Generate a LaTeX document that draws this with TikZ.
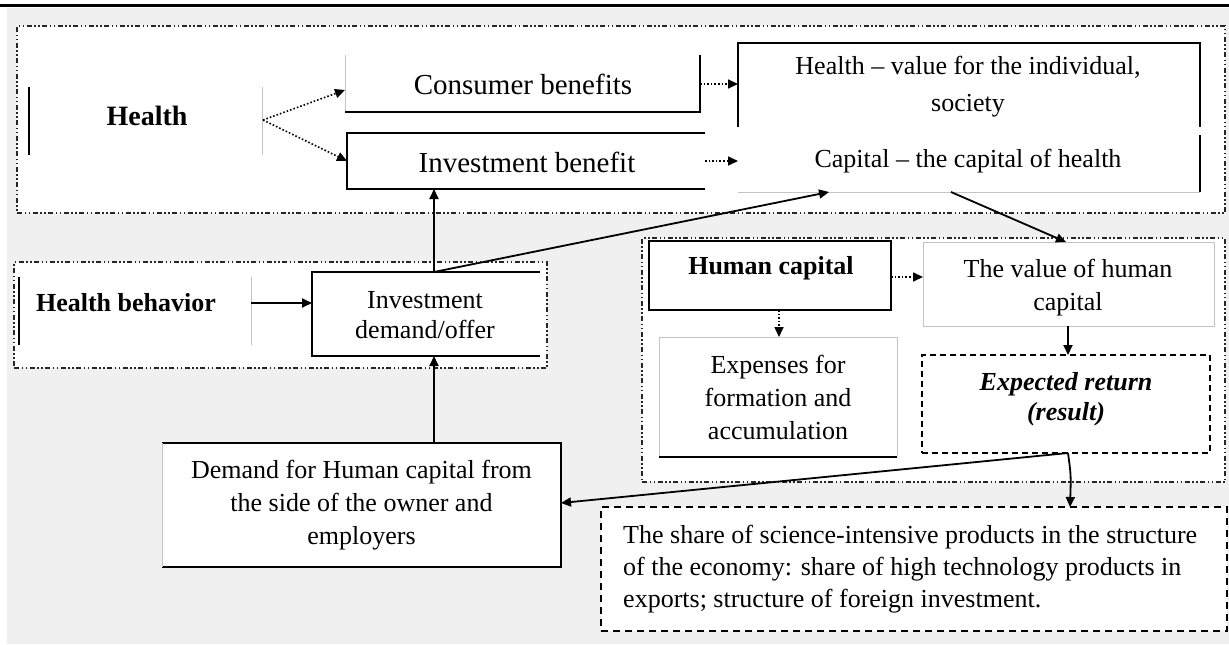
\documentclass[tikz,border=0pt]{standalone}
\usepackage{fontspec}
\setmainfont{Liberation Serif}
\usetikzlibrary{arrows.meta,fit}
\definecolor{bg}{HTML}{F0F0F0}
\definecolor{thinc}{HTML}{C4C4C4}
\begin{document}
\begin{tikzpicture}[x=1pt,y=-1pt,
  blk/.style={line width=1.8pt, black},
  lite/.style={line width=1pt, thinc},
  cont/.style={draw=black!85, line width=1.2pt, fill=white, inner sep=0pt, outer sep=0pt,
     dash pattern=on 5pt off 2.5pt on 1.5pt off 2.5pt on 1.5pt off 2.5pt},
  area/.style={inner sep=0pt, outer sep=0pt},
  txt/.style={font=\fontsize{26}{33}\selectfont, align=center, inner sep=0pt},
  bigtxt/.style={font=\fontsize{29}{33}\selectfont, align=center, inner sep=0pt},
  conn/.style={line width=1.8pt, -{Triangle[length=10pt,width=9pt]}},
  dconn/.style={line width=1.6pt, dotted, -{Triangle[length=10pt,width=9pt]}},
]
\useasboundingbox (0,0) rectangle (1229,645);
\fill[bg] (7,8) rectangle (1229,644);
\draw[line width=3pt] (0,5) -- (1229,5);

% containers
\node[cont, fit={(17,26) (1225,213)}] (topC) {};
\node[cont, fit={(14,262) (547,368)}] (hbC) {};
\node[cont, fit={(642,238) (1225,482)}] (hcC) {};

% box areas
\node[area, fit={(29,87) (262,155)}] (health) {};
\node[area, fit={(345,55) (700,112)}] (cons) {};
\node[area, fit={(347,133) (705,189)}] (invb) {};
\node[area, fit={(738,43) (1200,127)}] (hval) {};
\node[area, fit={(738,135) (1200,192)}] (cap) {};
\node[area, fit={(19,277) (251,345)}] (hb) {};
\node[area, fill=white, fit={(312,272) (540,356)}] (invd) {};
\node[area, fill=white, fit={(162,443) (561,567)}] (dem) {};
\node[area, fit={(649,241) (891,310)}] (hcap) {};
\node[area, fit={(923,242) (1214,326)}] (vhc) {};
\node[area, fit={(659,337) (897,457)}] (exps) {};
\node[area, fill=white, draw, line width=1.6pt, dash pattern=on 6pt off 4pt, fit={(922,355) (1210,453)}] (er) {};
\node[area, fill=white, draw, line width=1.6pt, dash pattern=on 7pt off 5pt, fit={(601,507) (1227,631)}] (share) {};

% partial borders
\draw[blk] (health.north west) -- (health.south west);
\draw[lite] (health.north east) -- (health.south east);
\draw[lite] (cons.north west) -- (cons.south west);
\draw[blk] (cons.south west) -- (cons.south east) -- (cons.north east);
\draw[blk] (invb.north east) -- (invb.north west) -- (invb.south west) -- (invb.south east);
\draw[blk] (hval.south west) -- (hval.north west) -- (hval.north east) -- (hval.south east);
\draw[blk] (cap.north east) -- (cap.south east);
\draw[lite] (cap.south east) -- (cap.south west);
\draw[blk] (hb.north west) -- (hb.south west);
\draw[lite] (hb.north east) -- (hb.south east);
\draw[blk] (invd.north east) -- (invd.north west) -- (invd.south west) -- (invd.south east);
\draw[blk] (dem.north west) -- (dem.north east) -- (dem.south east) -- (dem.south west);
\draw[lite] (dem.north west) -- (dem.south west);
\draw[blk] (hcap.north west) rectangle (hcap.south east);
\draw[lite] (vhc.north west) rectangle (vhc.south east);
\draw[lite] (exps.south west) -- (exps.north west) -- (exps.north east) -- (exps.south east);
\draw[blk] (exps.south west) -- (exps.south east);

% texts
\node[txt, font=\fontsize{28}{33}\selectfont\bfseries] at (147,116) {Health};
\node[bigtxt] at (523,84) {Consumer benefits};
\node[bigtxt] at (527,162) {Investment benefit};
\node[txt, font=\fontsize{26}{37}\selectfont] at (968,87) {Health – value for the individual,\\ society};
\node[txt] at (968,161) {Capital – the capital of health};
\node[txt, font=\fontsize{26}{33}\selectfont\bfseries] at (126,303) {Health behavior};
\node[txt, font=\fontsize{26}{30}\selectfont] at (425,315) {Investment\\ demand/offer};
\node[txt] at (dem.center) {Demand for Human capital from\\ the side of the owner and\\ employers};
\node[txt, font=\fontsize{26}{33}\selectfont\bfseries] at (771,268) {Human capital};
\node[txt] at (1068,288) {The value of human\\ capital};
\node[txt] at (exps.center) {Expenses for\\ formation and\\ accumulation};
\node[txt, font=\fontsize{26}{30}\selectfont\bfseries\itshape] at (1066,399) {Expected return\\ (result)};
\node[txt, align=left, anchor=west, font=\fontsize{26}{32}\selectfont] at (623,569) {The share of science-intensive products in the structure\\ of the economy: share of high technology products in\\ exports; structure of foreign investment.};

% connectors
\coordinate (hE) at (263,120);
\draw[dconn] (hE) -- (cons.west |- 0,90);
\draw[dconn] (hE) -- (invb.west |- 0,161);
\draw[dconn] (cons.east |- 0,84) -- (hval.west |- 0,84);
\draw[dconn] (invb.east |- 0,161) -- (cap.west |- 0,161);
\draw[conn] (invd.north -| 434,0) -- (invb.south -| 434,0);
\draw[conn] (invd.north -| 434,0) -- (cap.south -| 829,0);
\draw[conn] (cap.south -| 951,0) -- (vhc.north -| 1066,0);
\draw[conn] (hb.east |- 0,303) -- (invd.west |- 0,303);
\draw[conn] (dem.north -| 434,0) -- (invd.south -| 434,0);
\draw[dconn] (hcap.east |- 0,277) -- (vhc.west |- 0,277);
\draw[dconn] (hcap.south -| 779,0) -- (exps.north -| 779,0);
\draw[conn] (vhc.south -| 1068,0) -- (er.north -| 1068,0);
\draw[conn] (er.south -| 1068,0) .. controls (1071,475) .. (share.north -| 1070,0);
\draw[conn] (er.south -| 1068,0) -- (dem.east |- 0,503);
\end{tikzpicture}
\end{document}
